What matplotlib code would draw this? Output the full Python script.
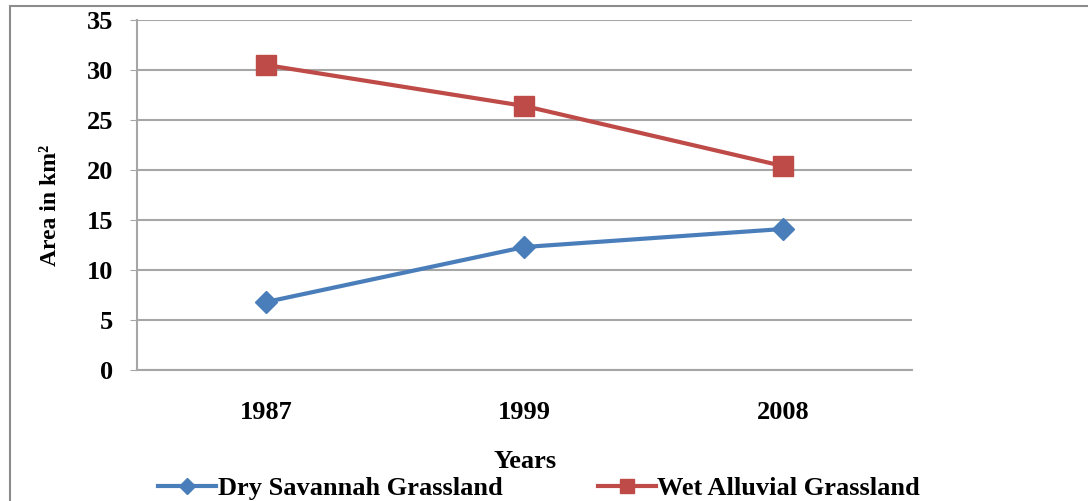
import matplotlib.pyplot as plt
from matplotlib.patches import Rectangle

# data
years = ['1987', '1999', '2008']
dry_savannah = [6.8, 12.3, 14.1]
wet_alluvial = [30.5, 26.4, 20.4]

plt.rcParams['font.family'] = ['Liberation Serif', 'DejaVu Serif']
plt.rcParams['font.weight'] = 'bold'

fig = plt.figure(figsize=(10.88, 5.01), dpi=100)
W, H = 1088, 501
ax = fig.add_axes([137 / W, 1 - 370 / H, (912 - 137) / W, (370 - 20) / H])

# outer chart frame
fig.patches.append(Rectangle((10 / W, -0.05), 1.1, 1 - 6 / H + 0.05, transform=fig.transFigure,
                             fill=False, edgecolor='#8c8c8c', linewidth=1.5))

x = range(len(years))
ax.plot(x, dry_savannah, '-D', color='#4a7ebb', linewidth=3, markersize=11, label='Dry Savannah Grassland')
ax.plot(x, wet_alluvial, '-s', color='#be4b48', linewidth=3, markersize=14, label='Wet Alluvial Grassland')

ax.set_xlim(-0.5, 2.5)
ax.set_ylim(0, 35)
ax.set_yticks(range(0, 36, 5))
ax.set_xticks(list(x))
ax.set_xticklabels(years)
ax.grid(True, axis='y', color='#a6a6a6', linewidth=1.5)
ax.set_axisbelow(True)
for side in ['top', 'right']:
    ax.spines[side].set_visible(False)
ax.spines['left'].set_color('#a6a6a6')
ax.spines['bottom'].set_color('#a6a6a6')
ax.spines['left'].set_linewidth(1.5)
ax.spines['bottom'].set_linewidth(1.5)
ax.tick_params(axis='y', length=5, color='#a6a6a6', labelsize=19, pad=12)
ax.tick_params(axis='x', length=0, labelsize=19, pad=22)

fig.text(51 / W, 1 - 205 / H, 'Area in km²', rotation=90, ha='center', va='center',
         fontsize=17, fontweight='bold')
fig.text(525 / W, 1 - 462 / H, 'Years', ha='center', va='center', fontsize=19, fontweight='bold')

fig.legend(loc='center', bbox_to_anchor=(539 / W, 1 - 488 / H), ncol=2, frameon=False,
           fontsize=19, columnspacing=3.6, handlelength=2.2, handletextpad=0.05,
           markerscale=0.75, borderaxespad=0, borderpad=0)

fig.savefig('out.png', dpi=100)
